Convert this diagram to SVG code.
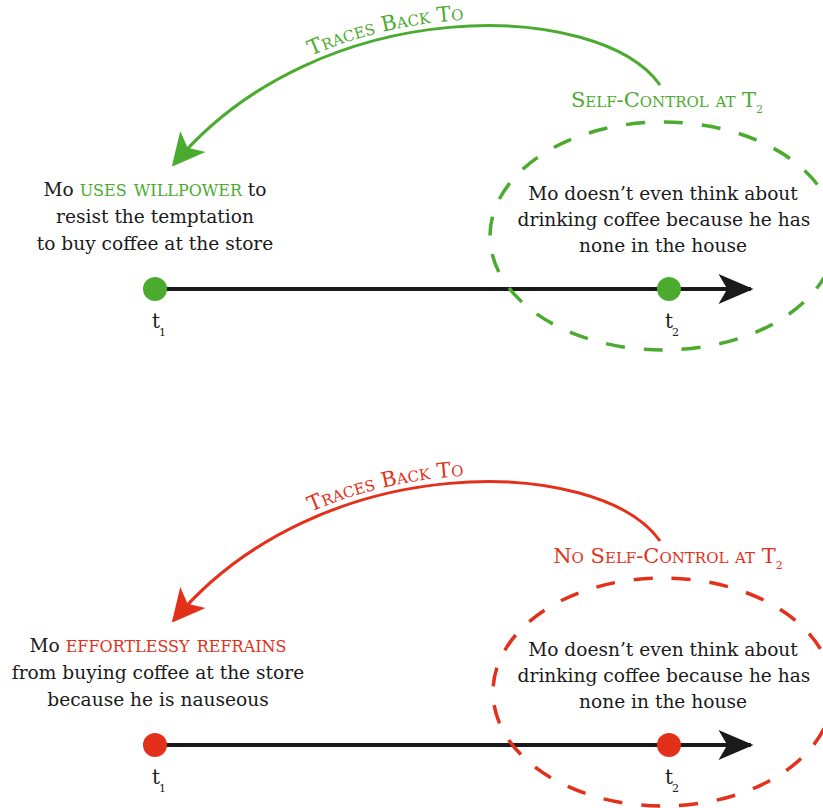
<svg xmlns="http://www.w3.org/2000/svg" width="823" height="808" viewBox="0 0 823 808">
<defs>
<style>
text{font-family:"DejaVu Serif","Liberation Serif",serif;}
.body{font-size:18.6px;fill:#1a1a1a;text-anchor:middle;}
.sc{font-variant:small-caps;font-size:22.5px;}
.lbl{font-size:21px;font-variant:small-caps;text-anchor:middle;}
.g{fill:#4aab2f;}
.r{fill:#e3301a;}
.tl{stroke:#1a1a1a;stroke-width:4;fill:none;}
.arcg{stroke:#4aab2f;stroke-width:3;fill:none;}
.arcr{stroke:#e3301a;stroke-width:3;fill:none;}
.ellg{stroke:#4aab2f;stroke-width:3.5;fill:none;stroke-dasharray:19 19;}
.ellr{stroke:#e3301a;stroke-width:3.5;fill:none;stroke-dasharray:19 19;}
.tt{font-size:20px;fill:#1a1a1a;}
.sub{font-size:11px;fill:#1a1a1a;}
</style>
<marker id="ak" markerUnits="userSpaceOnUse" markerWidth="40" markerHeight="40" viewBox="-30 -15 32 30" refX="0" refY="0" orient="auto">
<path d="M2 0 L-26 -12 L-19 0 L-26 12 Z" fill="#1a1a1a"/>
</marker>
<marker id="ag" markerUnits="userSpaceOnUse" markerWidth="40" markerHeight="40" viewBox="-32 -16 34 32" refX="0" refY="0" orient="auto">
<path d="M3 0 L-25 -14 L-18 0 L-25 14 Z" fill="#4aab2f"/>
</marker>
<marker id="ar" markerUnits="userSpaceOnUse" markerWidth="40" markerHeight="40" viewBox="-32 -16 34 32" refX="0" refY="0" orient="auto">
<path d="M3 0 L-25 -14 L-18 0 L-25 14 Z" fill="#e3301a"/>
</marker>
<path id="tp1" d="M176 155 C320 -16 600 -6 660 79"/>
<path id="tp2" d="M176 611 C320 440 600 450 660 535"/>
</defs>

<g id="connectors">
<path class="tl" d="M155 289 L751 289" marker-end="url(#ak)"/>
<path class="arcg" d="M660 85 C600 0 320 -10 174 164" marker-end="url(#ag)"/>
<path class="tl" d="M155 745 L751 745" marker-end="url(#ak)"/>
<path class="arcr" d="M660 541 C600 456 320 446 174 620" marker-end="url(#ar)"/>
</g>

<g id="top-label-arc">
<text class="lbl g"><textPath href="#tp1" startOffset="46%">Traces Back To</textPath></text>
</g>

<g id="top-t1">
<circle cx="155" cy="289" r="12" fill="#4aab2f"/>
<text class="tt" x="152" y="328">t</text><text class="sub" x="159" y="336">1</text>
</g>
<g id="top-t2">
<circle cx="669" cy="289" r="12" fill="#4aab2f"/>
<text class="tt" x="665" y="328">t</text><text class="sub" x="672" y="336">2</text>
</g>

<g id="top-left-text">
<text class="body" x="155" y="196">Mo <tspan class="sc g">uses willpower</tspan> to</text>
<text class="body" x="155" y="223">resist the temptation</text>
<text class="body" x="155" y="250">to buy coffee at the store</text>
</g>

<g id="top-right">
<ellipse class="ellg" cx="663" cy="236" rx="173" ry="114"/>
<text class="lbl g" x="667" y="107">Self-Control at T<tspan font-size="11" dy="6" font-variant="normal">2</tspan></text>
<text class="body" x="663" y="200">Mo doesn’t even think about</text>
<text class="body" x="664" y="226">drinking coffee because he has</text>
<text class="body" x="663" y="252">none in the house</text>
</g>

<g id="bottom-label-arc">
<text class="lbl r"><textPath href="#tp2" startOffset="46%">Traces Back To</textPath></text>
</g>

<g id="bottom-t1">
<circle cx="155" cy="745" r="12" fill="#e3301a"/>
<text class="tt" x="152" y="784">t</text><text class="sub" x="159" y="792">1</text>
</g>
<g id="bottom-t2">
<circle cx="669" cy="745" r="12" fill="#e3301a"/>
<text class="tt" x="665" y="784">t</text><text class="sub" x="672" y="792">2</text>
</g>

<g id="bottom-left-text">
<text class="body" x="158" y="652">Mo <tspan class="sc r">effortlessy refrains</tspan></text>
<text class="body" x="158" y="679">from buying coffee at the store</text>
<text class="body" x="158" y="706">because he is nauseous</text>
</g>

<g id="bottom-right">
<ellipse class="ellr" cx="663" cy="692" rx="170" ry="114"/>
<text class="lbl r" x="668" y="563">No Self-Control at T<tspan font-size="11" dy="6" font-variant="normal">2</tspan></text>
<text class="body" x="663" y="656">Mo doesn’t even think about</text>
<text class="body" x="664" y="682">drinking coffee because he has</text>
<text class="body" x="663" y="708">none in the house</text>
</g>
</svg>
